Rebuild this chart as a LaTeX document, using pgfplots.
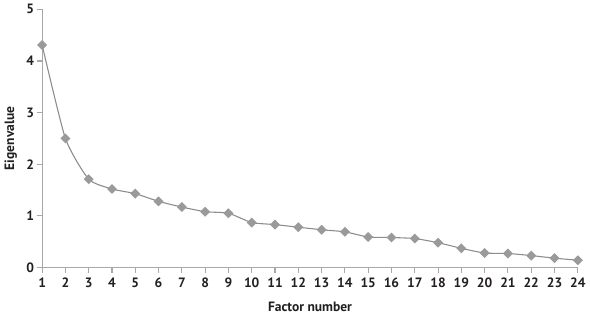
\documentclass[border=0pt]{standalone}
\usepackage{pgfplots}
\pgfplotsset{compat=1.18}
\usepackage{fontspec}
\setmainfont{PT Sans}
\definecolor{mk}{HTML}{9A9A9C}
\definecolor{ln}{HTML}{8C8C8C}
\definecolor{ax}{HTML}{A8A8A8}
\definecolor{tx}{HTML}{231F20}
\begin{document}
\begin{tikzpicture}
\begin{axis}[
  scale only axis,
  width=396pt, height=190.8pt,
  xmin=1, xmax=24, ymin=0, ymax=5,
  axis x line*=bottom, axis y line*=left,
  axis line style={ax, line width=0.8pt},
  xtick={1,...,24}, ytick={0,...,5},
  tick style={ax, line width=0.8pt},
  major tick length=4pt,
  tick align=outside,
  tick label style={font=\fontsize{10}{12}\selectfont\bfseries, text=tx},
  yticklabel style={xshift=1.5pt},
  /pgf/number format/assume math mode=true,
  xlabel={Factor number}, ylabel={Eigenvalue},
  label style={font=\fontsize{10}{12}\selectfont\bfseries, text=tx},
  xlabel style={yshift=-4pt},
  ylabel style={yshift=0pt},
  clip=false,
]
\addplot[ln, line width=0.8pt, smooth, tension=0.35, mark=square*, mark size=2.2pt,
  mark options={rotate=45, fill=mk, draw=mk}] coordinates {
(1,4.31) (2,2.50) (3,1.71) (4,1.52) (5,1.43) (6,1.28) (7,1.17) (8,1.08)
(9,1.05) (10,0.87) (11,0.83) (12,0.78) (13,0.73) (14,0.69) (15,0.59)
(16,0.58) (17,0.56) (18,0.48) (19,0.37) (20,0.28) (21,0.27) (22,0.23)
(23,0.18) (24,0.14)
};
\end{axis}
\end{tikzpicture}
\end{document}
